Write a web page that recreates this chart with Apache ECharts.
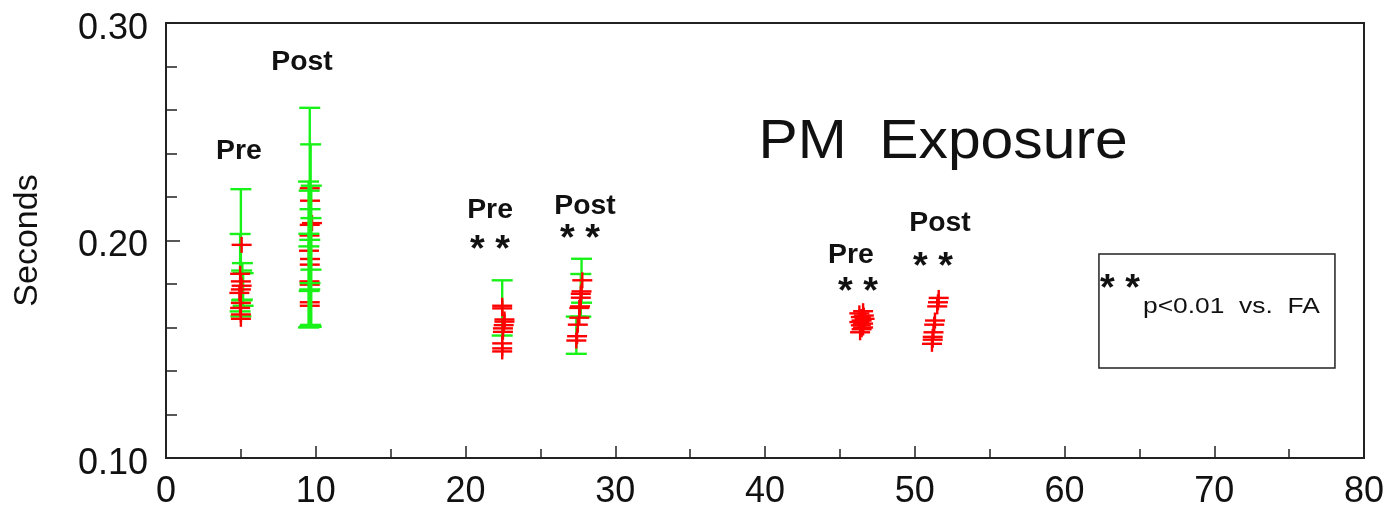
<!DOCTYPE html>
<html>
<head>
<meta charset="utf-8">
<script src="https://cdn.jsdelivr.net/npm/echarts@6/dist/echarts.min.js"></script>
<style>
html,body{margin:0;padding:0;background:#fff;}
#chart{width:1389px;height:510px;}
</style>
</head>
<body>
<div id="chart"></div>
<script>
// ---- axis ticks ----
const xTicks = [0, 10, 20, 30, 40, 50, 60, 70, 80];
const yTicks = [0.10, 0.20, 0.30];

// ---- green error bars: [x, low, high] ----
const g1Green = [[5.0,0.1651,0.2236],[4.95,0.1674,0.2030],[5.1,0.1728,0.1896],[5.05,0.1725,0.1862],[5.15,0.1700,0.1850]];
const g2Green = [[9.6,0.1606,0.2610],[9.66,0.1612,0.2442],[9.52,0.1600,0.2271],[9.7,0.1603,0.2252],[9.56,0.1768,0.2229],[9.62,0.1804,0.2144],[9.68,0.1866,0.2103],[9.54,0.1973,0.2031],[9.6,0.1775,0.2003]];
const g3Green = [[22.45,0.1563,0.1817]];
const g4Green = [[27.75,0.1714,0.1916],[27.7,0.1650,0.1846],[27.4,0.1479,0.1650]];

// ---- red individual points: [x, y] ----
const g1Red = [[5.05,0.1980],[4.95,0.1847],[5.0,0.1812],[5.05,0.1792],[5.0,0.1775],[4.9,0.1759],[5.0,0.1713],[4.95,0.1690],[5.0,0.1660],[5.0,0.1640]];
const g2Red = [[9.6,0.2240],[9.62,0.2183],[9.75,0.2080],[9.6,0.2072],[9.58,0.2023],[9.55,0.1953],[9.62,0.1915],[9.6,0.1889],[9.58,0.1812],[9.6,0.1797],[9.6,0.1716],[9.6,0.1700]];
const g3Red = [[22.45,0.1700],[22.45,0.1688],[22.6,0.1637],[22.6,0.1627],[22.55,0.1611],[22.5,0.1596],[22.5,0.1580],[22.45,0.1527],[22.45,0.1504],[22.45,0.1490]];
const g4Red = [[27.8,0.1817],[27.75,0.1766],[27.7,0.1755],[27.7,0.1737],[27.65,0.1697],[27.6,0.1690],[27.6,0.1645],[27.5,0.1613],[27.45,0.1560],[27.4,0.1540]];
const g5Red = [[46.55,0.1675],[46.3,0.1665],[46.6,0.1655],[46.4,0.1648],[46.65,0.1640],[46.45,0.1632],[46.3,0.1625],[46.55,0.1618],[46.4,0.1610],[46.55,0.1600],[46.45,0.1592],[46.35,0.1578]];
const g6Red = [[51.6,0.1736],[51.55,0.1716],[51.5,0.1697],[51.35,0.1632],[51.3,0.1613],[51.25,0.1578],[51.2,0.1557],[51.2,0.1544],[51.15,0.1525]];

// ---- annotations: [x, y, text, kind] ----
const annotations = [
  [4.87, 0.2411, 'Pre', 'label'],
  [9.08, 0.2816, 'Post', 'label'],
  [21.64, 0.2140, 'Pre', 'label'],
  [21.64, 0.1989, '* *', 'star'],
  [27.98, 0.2154, 'Post', 'label'],
  [27.65, 0.2039, '* *', 'star'],
  [45.74, 0.1929, 'Pre', 'label'],
  [46.21, 0.1795, '* *', 'star'],
  [51.69, 0.2080, 'Post', 'label'],
  [51.22, 0.1910, '* *', 'star'],
  [51.89, 0.2448, 'PM  Exposure', 'title'],
  [63.71, 0.1809, '* *', 'star'],
  [65.24, 0.1699, 'p<0.01  vs.  FA', 'note']
];
const legendBox = [62.30, 0.1938, 78.06, 0.1414];

const GREEN = '#19f219';
const RED = '#ff0000';
const FONT = 'Liberation Sans, Arial, sans-serif';

function barItem(params, api) {
  const x = api.value(0), lo = api.value(1), hi = api.value(2);
  const t = api.coord([x, hi]), b = api.coord([x, lo]);
  const hw = 10.5;
  const st = {stroke: GREEN, lineWidth: 2.4};
  return {type: 'group', children: [
    {type: 'line', shape: {x1: t[0], y1: t[1], x2: b[0], y2: b[1]}, style: st},
    {type: 'line', shape: {x1: t[0]-hw, y1: t[1], x2: t[0]+hw, y2: t[1]}, style: st},
    {type: 'line', shape: {x1: b[0]-hw, y1: b[1], x2: b[0]+hw, y2: b[1]}, style: st}
  ]};
}
function plusItem(params, api) {
  const p = api.coord([api.value(0), api.value(1)]);
  const hw = 10, hh = 8;
  const st = {stroke: RED, lineWidth: 2.4};
  return {type: 'group', children: [
    {type: 'line', shape: {x1: p[0]-hw, y1: p[1], x2: p[0]+hw, y2: p[1]}, style: st},
    {type: 'line', shape: {x1: p[0], y1: p[1]-hh, x2: p[0], y2: p[1]+hh}, style: st}
  ]};
}
function barSeries(data) { return {type: 'custom', renderItem: barItem, data: data, encode: {x: 0, y: [1, 2]}, silent: true, animation: false}; }
function plusSeries(data) { return {type: 'custom', renderItem: plusItem, data: data, encode: {x: 0, y: 1}, silent: true, animation: false}; }

const axisColor = '#222';
const chart = echarts.init(document.getElementById('chart'), null, {renderer: 'canvas'});
chart.setOption({
  animation: false,
  backgroundColor: '#fff',
  grid: {left: 166, right: 25, top: 23, bottom: 52, show: true, borderColor: axisColor, borderWidth: 2},
  xAxis: {
    type: 'value', min: xTicks[0], max: xTicks[xTicks.length-1], interval: 10,
    splitLine: {show: false},
    axisLine: {lineStyle: {color: axisColor, width: 2}},
    axisTick: {inside: true, length: 12, lineStyle: {color: axisColor, width: 1.5}},
    minorTick: {show: true, splitNumber: 2, length: 9, lineStyle: {color: axisColor, width: 1.5}},
    axisLabel: {fontSize: 36, color: '#111', margin: 16, fontFamily: FONT}
  },
  yAxis: {
    type: 'value', min: yTicks[0], max: yTicks[yTicks.length-1], interval: 0.1,
    name: 'Seconds', nameLocation: 'middle', nameGap: 121, nameRotate: 90,
    nameTextStyle: {fontSize: 34, color: '#111', fontFamily: FONT},
    splitLine: {show: false},
    axisLine: {lineStyle: {color: axisColor, width: 2}},
    axisTick: {inside: true, length: 14, lineStyle: {color: axisColor, width: 1.5}},
    minorTick: {show: true, splitNumber: 5, length: 11, lineStyle: {color: axisColor, width: 1.5}},
    axisLabel: {
      margin: 18, formatter: v => '{a|' + v.toFixed(2) + '}',
      rich: {a: {fontSize: 36, color: '#111', fontFamily: FONT, padding: [12, 0, 0, 0]}}
    }
  },
  series: [
    plusSeries(g2Red),
    barSeries(g1Green), barSeries(g2Green), barSeries(g3Green), barSeries(g4Green),
    plusSeries(g1Red), plusSeries(g3Red), plusSeries(g4Red), plusSeries(g5Red), plusSeries(g6Red)
  ]
});

const styles = {
  label: {fontSize: 27, fontWeight: 'bold', align: 'center', scaleX: 1.05, dy: 0},
  star:  {fontSize: 36, fontWeight: 'bold', align: 'center', scaleX: 1.05, dy: 8},
  title: {fontSize: 56, fontWeight: 'normal', align: 'center', scaleX: 1.05, dy: 0},
  note:  {fontSize: 22, fontWeight: 'normal', align: 'left', scaleX: 1.2, dy: 1}
};
const graphics = annotations.map(a => {
  const p = chart.convertToPixel({gridIndex: 0}, [a[0], a[1]]);
  const s = styles[a[3]];
  return {type: 'text', x: p[0], y: p[1] + s.dy, scaleX: s.scaleX, silent: true,
    style: {text: a[2], fontSize: s.fontSize, fontWeight: s.fontWeight, fontFamily: FONT,
      fill: '#111', align: s.align, verticalAlign: 'middle'}};
});
const b0 = chart.convertToPixel({gridIndex: 0}, [legendBox[0], legendBox[1]]);
const b1 = chart.convertToPixel({gridIndex: 0}, [legendBox[2], legendBox[3]]);
graphics.push({type: 'rect', silent: true, shape: {x: b0[0], y: b0[1], width: b1[0]-b0[0], height: b1[1]-b0[1]},
  style: {fill: 'none', stroke: '#222', lineWidth: 1.5}});
chart.setOption({graphic: graphics});
</script>
</body>
</html>
